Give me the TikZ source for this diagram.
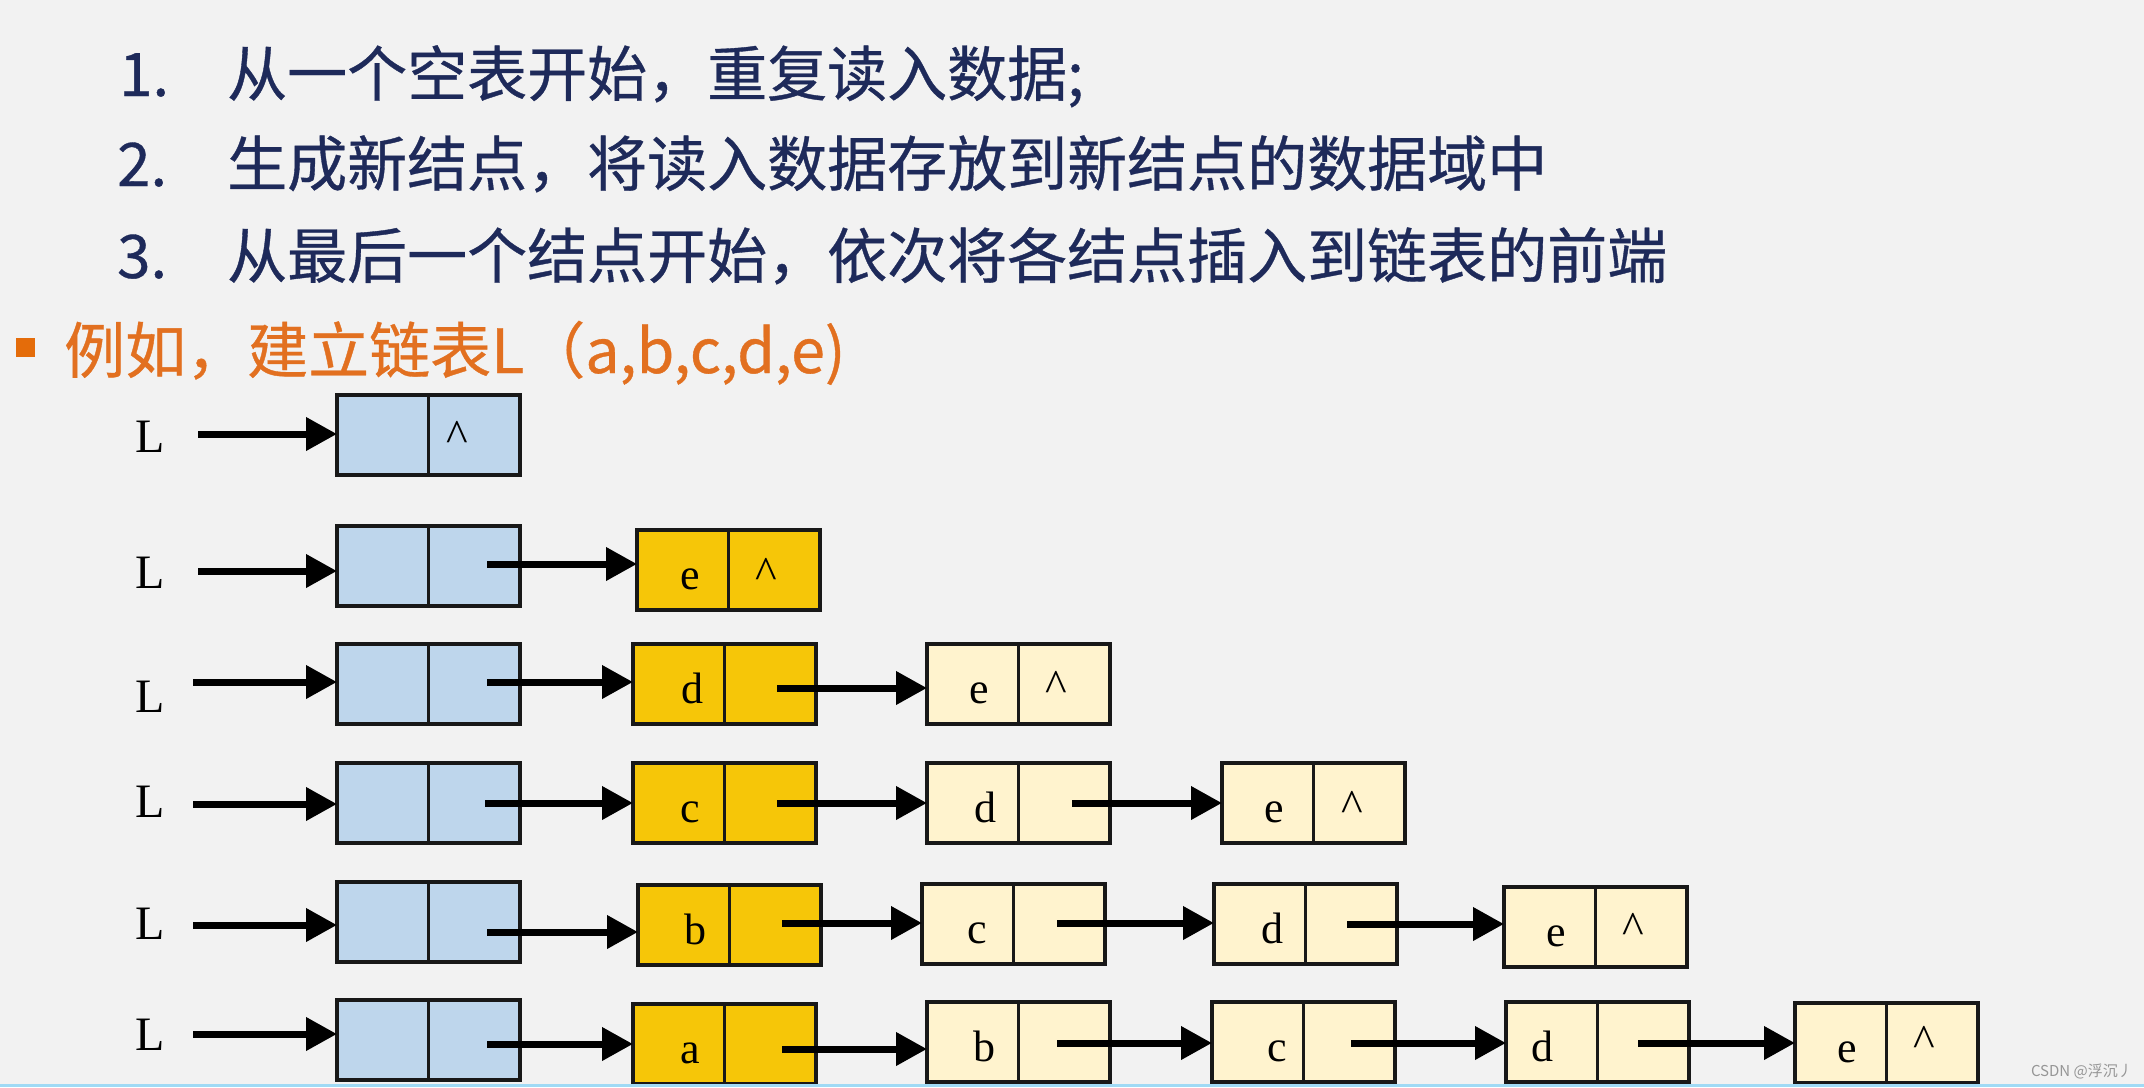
\documentclass[tikz,border=0pt]{standalone}
\usepackage{fontspec}
\newfontfamily\cjk{Noto Sans CJK SC}
\newfontfamily\cjkb[FakeBold=0.6]{Noto Sans CJK SC}
\newfontfamily\tnr{Liberation Serif}
\usetikzlibrary{arrows.meta}
\definecolor{bgc}{RGB}{242,242,242}
\definecolor{navy}{RGB}{30,42,90}
\definecolor{orgtxt}{RGB}{226,112,32}
\definecolor{orgbul}{RGB}{228,108,10}
\definecolor{headblue}{RGB}{190,214,236}
\definecolor{newgold}{RGB}{246,198,8}
\definecolor{oldcream}{RGB}{255,243,206}
\definecolor{boxline}{RGB}{24,24,24}
\definecolor{stripeblue}{RGB}{160,218,245}
\definecolor{wmgray}{RGB}{150,150,150}
\newcommand\mkhead[3]{\node[headbox] (#1) at (#2,#3) {};
  \draw[divider] (#1.north) -- (#1.south);}
\newcommand\mkcell[6]{\node[#2] (#1) at (#3,#4) {};
  \draw[divider] (#1.north) -- (#1.south);
  \path (#1.west) ++(#6,19) node[datatxt] (#1v) {#5};}
\newcommand\mknil[3]{\path (#1.west) ++(#2,#3) node[niltxt] (#1n) {\textasciicircum};}
\newcommand\ptr[4]{\path (#1.east) ++(-#3,#4) coordinate (#1p);
  \draw[arr] (#1p) -- (#1p -| #2.west);}
\newcommand\hptr[4]{\path (#2.west) ++(-#3,#4) coordinate (#1p);
  \draw[arr] (#1p) -- (#1p -| #2.west);}
\begin{document}
\begin{tikzpicture}[x=1pt,y=-1pt,
  cellbox/.style={draw=boxline, line width=3.5pt, minimum width=183pt, minimum height=80pt, inner sep=0pt, outer sep=0pt, anchor=north west},
  headbox/.style={cellbox, fill=headblue},
  newbox/.style={cellbox, fill=newgold},
  oldbox/.style={cellbox, fill=oldcream},
  divider/.style={draw=boxline, line width=2.5pt},
  datatxt/.style={font=\tnr\fontsize{44}{44}\selectfont, inner sep=0pt, anchor=base},
  niltxt/.style={font=\tnr\fontsize{46}{46}\selectfont, inner sep=0pt, anchor=base},
  lbl/.style={font=\tnr\fontsize{48}{48}\selectfont, inner sep=0pt, anchor=base west},
  arr/.style={line width=7pt, -{Triangle[length=31pt,width=32pt]}},
  steptxt/.style={font=\cjkb\fontsize{60}{60}\selectfont, text=navy, inner sep=0pt, anchor=base west},
  exatxt/.style={font=\cjkb\fontsize{61}{61}\selectfont, text=orgtxt, inner sep=0pt, anchor=base west}]
\useasboundingbox (0,0) rectangle (2144,1087);
% background
\fill[bgc] (0,0) rectangle (2144,1087);
% text lines
\node[steptxt] (n1) at (119,96) {1.};
\node[steptxt] (t1) at (227,96) {从一个空表开始，重复读入数据;};
\node[steptxt] (n2) at (117,186) {2.};
\node[steptxt] (t2) at (227,186) {生成新结点，将读入数据存放到新结点的数据域中};
\node[steptxt] (n3) at (117,278) {3.};
\node[steptxt] (t3) at (227,278) {从最后一个结点开始，依次将各结点插入到链表的前端};
\node[fill=orgbul, minimum size=19pt, inner sep=0pt, anchor=north west] (bul) at (16,338) {};
\node[exatxt] (ex) at (64,373) {例如，建立链表L（a,b,c,d,e)};
% L labels
\node[lbl] (L1) at (135,452) {L};
\node[lbl] (L2) at (135,588) {L};
\node[lbl] (L3) at (135,712) {L};
\node[lbl] (L4) at (135,817) {L};
\node[lbl] (L5) at (135,939) {L};
\node[lbl] (L6) at (135,1050) {L};
% row 1
\mkhead{h1}{337}{395}
\mknil{h1}{120}{16}
% row 2
\mkhead{h2}{337}{526}
\mkcell{n2e}{newbox}{637}{530}{e}{53}
\mknil{n2e}{129}{18}
% row 3
\mkhead{h3}{337}{644}
\mkcell{n3d}{newbox}{633}{644}{d}{59}
\mkcell{o3e}{oldbox}{927}{644}{e}{52}
\mknil{o3e}{129}{17}
% row 4
\mkhead{h4}{337}{763}
\mkcell{n4c}{newbox}{633}{763}{c}{57}
\mkcell{o4d}{oldbox}{927}{763}{d}{58}
\mkcell{o4e}{oldbox}{1222}{763}{e}{52}
\mknil{o4e}{130}{18}
% row 5
\mkhead{h5}{337}{882}
\mkcell{n5b}{newbox}{638}{885}{b}{57}
\mkcell{o5c}{oldbox}{922}{884}{c}{55}
\mkcell{o5d}{oldbox}{1214}{884}{d}{58}
\mkcell{o5e}{oldbox}{1504}{887}{e}{52}
\mknil{o5e}{129}{16}
% row 6
\mkhead{h6}{337}{1000}
\mkcell{n6a}{newbox}{633}{1004}{a}{57}
\mkcell{o6b}{oldbox}{927}{1002}{b}{57}
\mkcell{o6c}{oldbox}{1212}{1002}{c}{65}
\mkcell{o6d}{oldbox}{1506}{1002}{d}{36}
\mkcell{o6e}{oldbox}{1795}{1003}{e}{52}
\mknil{o6e}{129}{13}
% head pointers
\hptr{L1}{h1}{139}{-1}
\hptr{L2}{h2}{139}{5}
\hptr{L3}{h3}{144}{-2}
\hptr{L4}{h4}{144}{1}
\hptr{L5}{h5}{144}{3}
\hptr{L6}{h6}{144}{-6}
% next pointers
\ptr{h2}{n2e}{33}{-2}
\ptr{h3}{n3d}{33}{-2}
\ptr{n3d}{o3e}{39}{4}
\ptr{h4}{n4c}{35}{0}
\ptr{n4c}{o4d}{39}{0}
\ptr{o4d}{o4e}{38}{0}
\ptr{h5}{n5b}{33}{10}
\ptr{n5b}{o5c}{39}{-2}
\ptr{o5c}{o5d}{48}{-1}
\ptr{o5d}{o5e}{50}{0}
\ptr{h6}{n6a}{33}{4}
\ptr{n6a}{o6b}{34}{5}
\ptr{o6b}{o6c}{53}{1}
\ptr{o6c}{o6d}{44}{1}
\ptr{o6d}{o6e}{51}{1}
% bottom stripe
\fill[stripeblue] (0,1084) rectangle (2144,1087);
% watermark
\node[anchor=base east, font=\cjk\fontsize{15}{15}\selectfont, text=wmgray, inner sep=0pt] (wm) at (2133,1076) {CSDN @浮沉丿};
\end{tikzpicture}
\end{document}
